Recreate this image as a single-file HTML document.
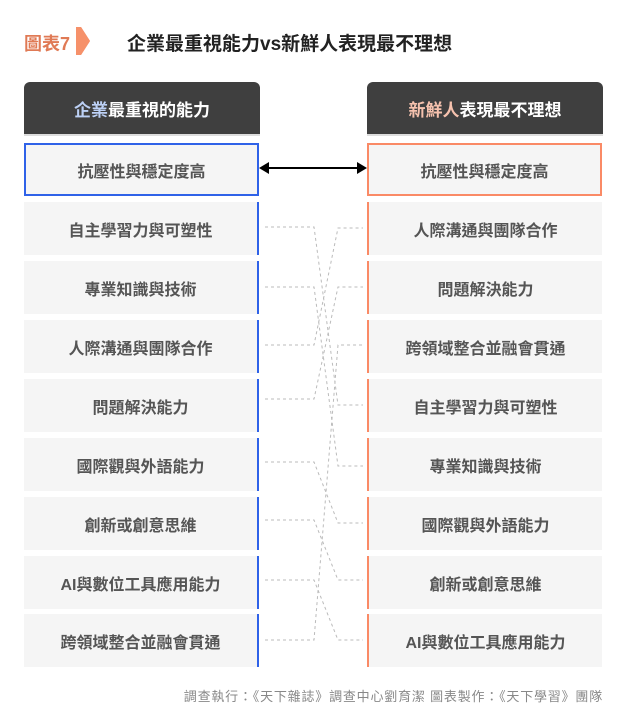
<!DOCTYPE html>
<html><head><meta charset="utf-8"><style>
body{margin:0;width:628px;height:726px;background:#fff;font-family:"Liberation Sans","Noto Sans CJK TC",sans-serif;position:relative;overflow:hidden}
.a{position:absolute}
.box{position:absolute;width:235px;height:53px;background:#f5f5f5;color:#555;font-size:16px;font-weight:bold;display:flex;align-items:center;justify-content:center;box-sizing:border-box}
.L{left:24px;border-right:2px solid #2f62e8}
.R{left:367px;border-left:2px solid #fa8a66}
.hd{position:absolute;top:82px;width:236px;height:52px;background:#3f3f3f;border-radius:6px 6px 0 0;color:#fff;font-size:17px;font-weight:bold;display:flex;align-items:center;justify-content:center;border-bottom:2px solid #ddd}
</style></head><body>
<div class="a" style="left:24px;top:30px;font-size:18px;font-weight:bold;color:#e07a55">圖表7</div>
<svg class="a" style="left:76px;top:27px" width="16" height="28"><polygon points="0,0 5,0 14,14 5,28 0,28 0,28 0,0" fill="#f6916a"/><polygon points="0,0 5,0 14,14 5,28 0,28 0,0" fill="#f6916a"/></svg>
<div class="a" style="left:127px;top:29px;font-size:19px;font-weight:bold;color:#222">企業最重視能力vs新鮮人表現最不理想</div>
<div class="hd" style="left:24px"><span style="color:#bcd0f5">企業</span>最重視的能力</div>
<div class="hd" style="left:367px"><span style="color:#f6c2ae">新鮮人</span>表現最不理想</div>
<div class="box" style="left:24px;top:143px;border:2px solid #2f62e8">抗壓性與穩定度高</div>
<div class="box" style="left:367px;top:143px;border:2px solid #fa8a66">抗壓性與穩定度高</div>
<div class="box L" style="top:202px">自主學習力與可塑性</div>
<div class="box L" style="top:261px">專業知識與技術</div>
<div class="box L" style="top:320px">人際溝通與團隊合作</div>
<div class="box L" style="top:379px">問題解決能力</div>
<div class="box L" style="top:438px">國際觀與外語能力</div>
<div class="box L" style="top:497px">創新或創意思維</div>
<div class="box L" style="top:556px">AI與數位工具應用能力</div>
<div class="box L" style="top:614px">跨領域整合並融會貫通</div>
<div class="box R" style="top:202px">人際溝通與團隊合作</div>
<div class="box R" style="top:261px">問題解決能力</div>
<div class="box R" style="top:320px">跨領域整合並融會貫通</div>
<div class="box R" style="top:379px">自主學習力與可塑性</div>
<div class="box R" style="top:438px">專業知識與技術</div>
<div class="box R" style="top:497px">國際觀與外語能力</div>
<div class="box R" style="top:556px">創新或創意思維</div>
<div class="box R" style="top:614px">AI與數位工具應用能力</div>
<svg class="a" style="left:0;top:0" width="628" height="726">
<line x1="262" y1="168" x2="364" y2="168" stroke="#000" stroke-width="2"/>
<polygon points="259,168 269,162 269,174" fill="#000"/>
<polygon points="367,168 357,162 357,174" fill="#000"/>
<g fill="none" stroke="#bbb" stroke-width="1" stroke-dasharray="3,3">
<polyline points="265,227 314,227 338,405 363,405"/>
<polyline points="265,287 314,287 338,466 363,466"/>
<polyline points="265,345 314,345 338,228 363,228"/>
<polyline points="265,399 314,399 338,287 363,287"/>
<polyline points="265,462 314,462 338,523 363,523"/>
<polyline points="265,520 314,520 338,580 363,580"/>
<polyline points="265,580 314,580 338,640 363,640"/>
<polyline points="265,640 314,640 338,345 363,345"/>
</g>
</svg>
<div class="a" style="right:25px;top:686px;font-size:13px;letter-spacing:0.8px;color:#888">調查執行：《天下雜誌》調查中心劉育潔 圖表製作：《天下學習》團隊</div>
</body></html>
